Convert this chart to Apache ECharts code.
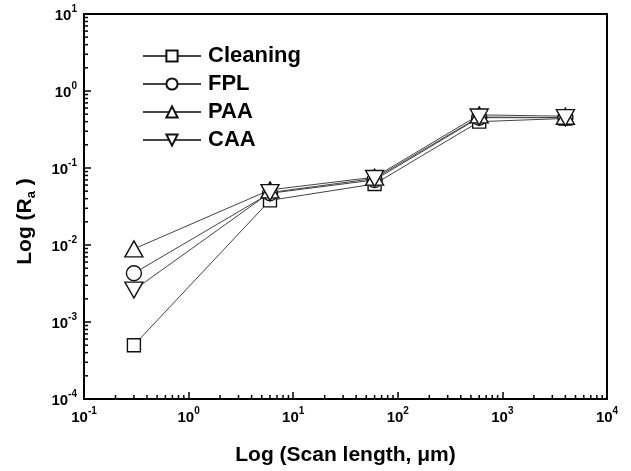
<!DOCTYPE html>
<html>
<head>
<meta charset="utf-8">
<script src="https://cdn.jsdelivr.net/npm/echarts@6/dist/echarts.min.js"></script>
<style>
  html, body { margin: 0; padding: 0; background: #fff; }
  #chart { width: 631px; height: 471px; }
</style>
</head>
<body>
<div id="chart"></div>
<script>
// Scan lengths (µm) and roughness Ra for each surface treatment
const scanLength = [0.3, 6, 60, 600, 4000];
const cleaning = [0.0005, 0.038, 0.062, 0.40, 0.44];
const fpl = [0.0043, 0.047, 0.070, 0.45, 0.45];
const paa = [0.0089, 0.052, 0.076, 0.49, 0.47];
const caa = [0.0026, 0.048, 0.073, 0.46, 0.45];
const seriesNames = ['Cleaning', 'FPL', 'PAA', 'CAA'];

// Axis ranges (decades)
const xDecades = [-1, 0, 1, 2, 3];
const yDecades = [-4, -3, -2, -1, 0];
const minorMantissas = [2, 3, 4, 5, 6, 7, 8, 9];
const X_MIN = 0.1, X_MAX = 10000, Y_MIN = 1e-4, Y_MAX = 10;

const FONT = 'Arial, "Liberation Sans", Helvetica, sans-serif';

function pairs(xs, ys) { return xs.map((x, i) => [x, ys[i]]); }

// Minor tick positions between decades
const xMinor = [];
xDecades.forEach(d => minorMantissas.forEach(m => xMinor.push([m * Math.pow(10, d), Y_MIN])));
const yMinor = [];
yDecades.forEach(d => minorMantissas.forEach(m => yMinor.push([X_MIN, m * Math.pow(10, d)])));

const powerLabel = v => {
  const e = Math.round(Math.log10(v));
  return '{b|10}{s|' + e + '}';
};
const powerRich = {
  b: { fontFamily: FONT, fontWeight: 'bold', fontSize: 15, color: '#000', lineHeight: 19, verticalAlign: 'bottom' },
  s: { fontFamily: FONT, fontWeight: 'bold', fontSize: 10, color: '#000', lineHeight: 19, verticalAlign: 'top' }
};

const lineSeries = (name, values, symbol, size, rotate) => ({
  name: name,
  type: 'line',
  data: pairs(scanLength, values),
  symbol: symbol,
  symbolSize: size,
  symbolRotate: rotate || 0,
  showAllSymbol: true,
  lineStyle: { color: '#444', width: 1 },
  itemStyle: { color: '#fff', borderColor: '#111', borderWidth: 1.4 },
  emphasis: { disabled: true },
  z: 3
});

const chart = echarts.init(document.getElementById('chart'), null, { renderer: 'canvas' });
chart.setOption({
  animation: false,
  backgroundColor: '#fff',
  grid: {
    left: 84, top: 14, right: 24, bottom: 70,
    show: true, borderColor: '#000', borderWidth: 2, backgroundColor: 'transparent'
  },
  legend: {
    data: seriesNames,
    orient: 'vertical',
    left: 137,
    top: 40,
    itemWidth: 58,
    itemHeight: 14,
    itemGap: 6,
    textStyle: { fontFamily: FONT, fontWeight: 'bold', fontSize: 22, color: '#000', lineHeight: 22, padding: [0, 0, 0, 2] },
    selectedMode: false
  },
  xAxis: {
    type: 'log',
    logBase: 10,
    min: X_MIN,
    max: X_MAX,
    name: 'Log (Scan length, \u03BCm)',
    nameLocation: 'middle',
    nameGap: 46,
    nameTextStyle: { fontFamily: FONT, fontWeight: 'bold', fontSize: 21, color: '#000' },
    axisLine: { lineStyle: { color: '#000', width: 2 } },
    axisTick: { inside: true, length: 7, lineStyle: { color: '#000', width: 1.5 } },
    axisLabel: { margin: 7, formatter: powerLabel, rich: powerRich, showMinLabel: true, showMaxLabel: true },
    splitLine: { show: false }
  },
  yAxis: {
    type: 'log',
    logBase: 10,
    min: Y_MIN,
    max: Y_MAX,
    name: 'Log (R{sub|a} )',
    nameLocation: 'middle',
    nameGap: 46,
    nameRotate: 90,
    nameTextStyle: {
      fontFamily: FONT, fontWeight: 'bold', fontSize: 21, color: '#000', lineHeight: 26,
      padding: [0, 30, 0, 0],
      rich: {
        sub: { fontFamily: FONT, fontWeight: 'bold', fontSize: 13, color: '#000', lineHeight: 26, verticalAlign: 'bottom' }
      }
    },
    axisLine: { lineStyle: { color: '#000', width: 2 } },
    axisTick: { inside: true, length: 7, lineStyle: { color: '#000', width: 1.5 } },
    axisLabel: { margin: 7, formatter: powerLabel, rich: powerRich, showMinLabel: true, showMaxLabel: true },
    splitLine: { show: false }
  },
  series: [
    lineSeries('Cleaning', cleaning, 'rect', 13),
    lineSeries('FPL', fpl, 'circle', 15),
    lineSeries('PAA', paa, 'triangle', [18, 16]),
    lineSeries('CAA', caa, 'triangle', [18, 16], 180),
    {
      // minor ticks along the bottom axis
      type: 'custom',
      silent: true,
      clip: false,
      z: 5,
      data: xMinor,
      renderItem: (params, api) => {
        const p = api.coord([api.value(0), Y_MIN]);
        return { type: 'line', shape: { x1: p[0], y1: p[1], x2: p[0], y2: p[1] - 4 }, style: { stroke: '#000', lineWidth: 1.5 } };
      }
    },
    {
      // minor ticks along the left axis
      type: 'custom',
      silent: true,
      clip: false,
      z: 5,
      data: yMinor,
      renderItem: (params, api) => {
        const p = api.coord([X_MIN, api.value(1)]);
        return { type: 'line', shape: { x1: p[0], y1: p[1], x2: p[0] + 4, y2: p[1] }, style: { stroke: '#000', lineWidth: 1.5 } };
      }
    }
  ]
});
</script>
</body>
</html>
